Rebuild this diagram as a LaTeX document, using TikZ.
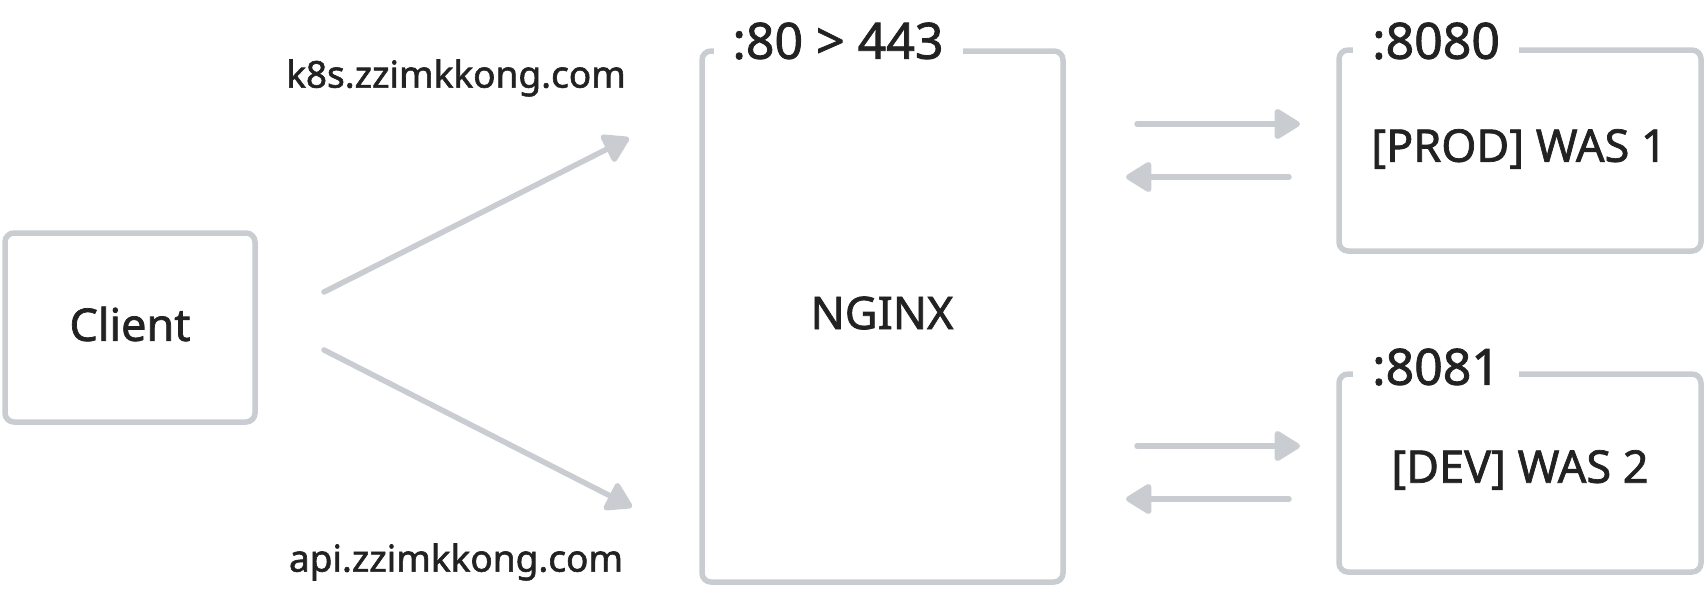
\documentclass[tikz,border=0pt]{standalone}
\usepackage{fontspec}
\setmainfont{Noto Sans}[FakeBold=1.6]
\usetikzlibrary{arrows.meta}
\definecolor{lg}{HTML}{C9CCD1}
\definecolor{tx}{HTML}{222222}
\begin{document}
\begin{tikzpicture}[x=1pt,y=-1pt,
  box/.style={draw=lg, line width=5.5pt, rounded corners=9pt, text=tx,
    font=\fontsize{45}{54}\selectfont, inner sep=0pt},
  lbl/.style={text=tx, font=\fontsize{45}{54}\selectfont\bfseries},
  port/.style={fill=white, text=tx, font=\fontsize{50}{60}\selectfont\bfseries, inner xsep=19pt, inner ysep=0pt},
  dom/.style={text=tx, font=\fontsize{37}{44}\selectfont\bfseries, inner sep=0pt},
  conn/.style={draw=lg, line width=5.5pt, line cap=round,
    -{Triangle[length=28pt, width=33pt, round]}}
]
\useasboundingbox (0,0) rectangle (1706,590);
\node[box, minimum width=250pt, minimum height=189pt] (client) at (130,327.5) {};
\node[lbl] (clientt) at (130,324) {Client};
\node[box, minimum width=361pt, minimum height=531pt] (nginx) at (882.5,316.5) {};
\node[lbl] (nginxt) at (882,313) {NGINX};
\node[box, minimum width=362pt, minimum height=201pt] (was1) at (1520,150.5) {};
\node[lbl] (was1t) at (1519,149) {[PROD] WAS 1};
\node[box, minimum width=362pt, minimum height=198pt] (was2) at (1520,473) {};
\node[lbl] (was2t) at (1520,470) {[DEV] WAS 2};

\node[port] (p80) at (838,41) {:80 > 443};
\node[port, anchor=west] (p8080) at (1353,41) {:8080};
\node[port, anchor=west] (p8081) at (1353,367) {:8081};

\node[dom] (k8s) at (456,78) {k8s.zzimkkong.com};
\node[dom] (api) at (456,562) {api.zzimkkong.com};

\coordinate (a1s) at (324,292);
\coordinate (a1e) at (629,138);
\coordinate (a2s) at (324,350);
\coordinate (a2e) at (632,507);
\draw[conn] (a1s) -- (a1e);
\draw[conn] (a2s) -- (a2e);

\coordinate (r1s) at (1137,124);
\coordinate (r1e) at (1300,124);
\coordinate (l1s) at (1289,177);
\coordinate (l1e) at (1126,177);
\coordinate (r2s) at (1137,446);
\coordinate (r2e) at (1300,446);
\coordinate (l2s) at (1289,499);
\coordinate (l2e) at (1126,499);
\draw[conn] (r1s) -- (r1e);
\draw[conn] (l1s) -- (l1e);
\draw[conn] (r2s) -- (r2e);
\draw[conn] (l2s) -- (l2e);
\end{tikzpicture}
\end{document}
